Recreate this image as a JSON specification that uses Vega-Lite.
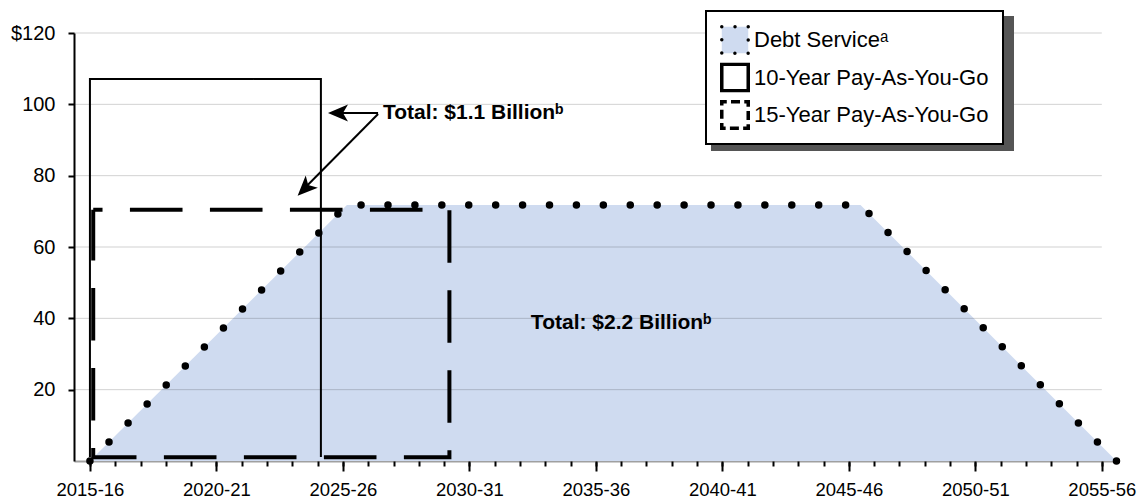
{
  "$schema": "https://vega.github.io/schema/vega-lite/v6.json",
  "width": 1043,
  "height": 428,
  "autosize": {"type": "none"},
  "padding": {"left": 74, "top": 33, "right": 24, "bottom": 39},
  "background": "white",
  "config": {"view": {"stroke": null}, "font": "Liberation Sans"},
  "datasets": {
    "debt": [
      {"series": "Debt Service", "year": 2015.0, "value": 0},
      {"series": "Debt Service", "year": 2025.16, "value": 71.78},
      {"series": "Debt Service", "year": 2045.46, "value": 71.78},
      {"series": "Debt Service", "year": 2055.58, "value": 0}
    ],
    "payg": [
      {"series": "10-Year Pay-As-You-Go", "i": 0, "year": 2015.0, "value": 1.12},
      {"series": "10-Year Pay-As-You-Go", "i": 1, "year": 2015.0, "value": 107.1},
      {"series": "10-Year Pay-As-You-Go", "i": 2, "year": 2024.13, "value": 107.1},
      {"series": "10-Year Pay-As-You-Go", "i": 3, "year": 2024.13, "value": 1.12},
      {"series": "15-Year Pay-As-You-Go", "i": 0, "year": 2015.13, "value": 70.46},
      {"series": "15-Year Pay-As-You-Go", "i": 1, "year": 2029.21, "value": 70.46},
      {"series": "15-Year Pay-As-You-Go", "i": 2, "year": 2029.21, "value": 1.04},
      {"series": "15-Year Pay-As-You-Go", "i": 3, "year": 2015.13, "value": 1.04},
      {"series": "15-Year Pay-As-You-Go", "i": 4, "year": 2015.13, "value": 70.46}
    ],
    "grid": [{"value": 20}, {"value": 40}, {"value": 60}, {"value": 80}, {"value": 100}, {"value": 120}]
  },
  "resolve": {"axis": {"x": "independent"}},
  "layer": [
    {
      "data": {"name": "debt"},
      "mark": {"type": "area", "color": "#CFDBF0"},
      "encoding": {
        "x": {
          "field": "year", "type": "quantitative",
          "scale": {"domain": [2014.37, 2055.6], "nice": false, "zero": false},
          "axis": {
            "orient": "bottom",
            "values": [2015, 2020, 2025, 2030, 2035, 2040, 2045, 2050, 2055],
            "labelExpr": "datum.value + '-' + substring(toString(datum.value + 1), 2, 4)",
            "title": null, "grid": false,
            "domainColor": "#a0a0a0", "domainWidth": 2,
            "tickColor": "#000", "tickWidth": 2, "tickSize": 10,
            "labelFont": "Liberation Sans", "labelFontSize": 18.5, "labelColor": "#000",
            "labelPadding": 9, "labelFlush": false, "labelOverlap": false, "labelBound": false
          }
        },
        "y": {
          "field": "value", "type": "quantitative",
          "scale": {"domain": [0, 120], "nice": false},
          "axis": {
            "values": [20, 40, 60, 80, 100, 120],
            "labelExpr": "datum.value == 120 ? '$120' : datum.label",
            "title": null, "grid": false,
            "domainColor": "#000", "domainWidth": 2,
            "tickColor": "#000", "tickWidth": 2, "tickSize": 6,
            "labelFont": "Liberation Sans", "labelFontSize": 20, "labelColor": "#000",
            "labelPadding": 13
          }
        }
      }
    },
    {
      "data": {"name": "grid"},
      "mark": {"type": "rule", "color": "#000", "opacity": 0.18, "strokeWidth": 1},
      "encoding": {
        "x": {"datum": 2014.37, "type": "quantitative", "axis": null},
        "x2": {"datum": 2055.0},
        "y": {"field": "value", "type": "quantitative"}
      }
    },
    {
      "data": {"name": "debt"},
      "mark": {"type": "line", "strokeWidth": 7.5, "strokeCap": "round", "strokeJoin": "round"},
      "encoding": {
        "x": {
          "field": "year", "type": "quantitative",
          "axis": {
            "orient": "bottom",
            "values": [2015, 2016, 2017, 2018, 2019, 2020, 2021, 2022, 2023, 2024, 2025, 2026, 2027, 2028, 2029, 2030, 2031, 2032, 2033, 2034, 2035, 2036, 2037, 2038, 2039, 2040, 2041, 2042, 2043, 2044, 2045, 2046, 2047, 2048, 2049, 2050, 2051, 2052, 2053, 2054, 2055],
            "labels": false, "domain": false, "grid": false, "title": null,
            "ticks": true, "tickSize": 5, "tickWidth": 2, "tickColor": "#000"
          }
        },
        "y": {"field": "value", "type": "quantitative"},
        "stroke": {
          "field": "series", "type": "nominal",
          "scale": {"domain": ["Debt Service", "10-Year Pay-As-You-Go", "15-Year Pay-As-You-Go"], "range": ["#000000", "#000000", "#000000"]},
          "legend": {
            "orient": "none", "legendX": 632, "legendY": -22, "title": null,
            "symbolType": "square", "symbolSize": 700, "symbolStrokeColor": "#000", "symbolStrokeWidth": 3.5,
            "labelFont": "Liberation Sans", "labelFontSize": 22, "labelColor": "#000", "labelOffset": 4,
            "labelLimit": 400, "clipHeight": 30,
            "padding": 14, "rowPadding": 7.5,
            "fillColor": "#ffffff", "strokeColor": "#000", "zindex": 2,
            "labelExpr": "datum.label == 'Debt Service' ? 'Debt Serviceᵃ' : datum.label",
            "encode": {
              "legend": {"update": {"strokeWidth": {"value": 2}}},
              "symbols": {"update": {
                "strokeDash": {"signal": "datum.value == 'Debt Service' ? [0, 13.25] : (datum.value == '15-Year Pay-As-You-Go' ? [9, 4.25] : [1, 0])"},
                "strokeDashOffset": {"signal": "datum.value == '15-Year Pay-As-You-Go' ? 4 : 0"},
                "strokeCap": {"signal": "datum.value == 'Debt Service' ? 'round' : 'butt'"},
                "fill": {"signal": "datum.value == 'Debt Service' ? '#CFDBF0' : '#ffffff'"},
                "stroke": {"value": "#000"},
                "opacity": {"value": 1}
              }}
            }
          }
        },
        "strokeDash": {
          "field": "series", "type": "nominal",
          "scale": {"domain": ["15-Year Pay-As-You-Go", "10-Year Pay-As-You-Go", "Debt Service"], "range": [[52.6, 27.4], [1, 0], [0, 26.92]]},
          "legend": {
            "orient": "none", "legendX": 638, "legendY": -16, "title": null,
            "symbolType": "square", "symbolSize": 72361, "symbolStrokeColor": "#555555", "symbolStrokeWidth": 0,
            "symbolFillColor": "#555555", "symbolOpacity": 0,
            "labelOffset": 4, "labelOpacity": 0, "labelFontSize": 1,
            "clipHeight": 30,
            "padding": 14, "rowPadding": 7.5,
            "fillColor": "#555555", "strokeColor": "#555555", "zindex": 0,
            "labelExpr": "''",
            "encode": {
              "legend": {"update": {"strokeWidth": {"value": 2}}}
            }
          }
        }
      }
    },
    {
      "data": {"name": "payg"},
      "transform": [{"filter": "datum.series == '10-Year Pay-As-You-Go'"}],
      "mark": {"type": "line", "color": "#000", "strokeWidth": 2, "strokeJoin": "miter", "strokeCap": "butt"},
      "encoding": {
        "x": {"field": "year", "type": "quantitative", "axis": null},
        "y": {"field": "value", "type": "quantitative"},
        "order": {"field": "i", "type": "quantitative"},
        "strokeDash": {"field": "series", "type": "nominal"}
      }
    },
    {
      "data": {"name": "payg"},
      "transform": [{"filter": "datum.series == '15-Year Pay-As-You-Go'"}],
      "mark": {"type": "line", "color": "#000", "strokeWidth": 4, "strokeJoin": "miter", "strokeCap": "butt", "strokeDashOffset": 43.3},
      "encoding": {
        "x": {"field": "year", "type": "quantitative", "axis": null},
        "y": {"field": "value", "type": "quantitative"},
        "order": {"field": "i", "type": "quantitative"},
        "strokeDash": {"field": "series", "type": "nominal"}
      }
    },
    {
      "data": {"values": [{}]},
      "mark": {"type": "rule", "color": "#000", "strokeWidth": 2},
      "encoding": {
        "x": {"datum": 2026.39, "type": "quantitative", "axis": null},
        "y": {"datum": 97.57, "type": "quantitative"},
        "x2": {"datum": 2024.9},
        "y2": {"datum": 97.57}
      }
    },
    {
      "data": {"values": [{}]},
      "mark": {"type": "rule", "color": "#000", "strokeWidth": 2},
      "encoding": {
        "x": {"datum": 2026.39, "type": "quantitative", "axis": null},
        "y": {"datum": 97.3, "type": "quantitative"},
        "x2": {"datum": 2023.6},
        "y2": {"datum": 77.3}
      }
    },
    {
      "data": {"values": [{}]},
      "mark": {"type": "point", "filled": true, "color": "#000", "opacity": 1, "strokeWidth": 0, "size": 1600, "angle": 270, "shape": "M0,0L-0.43,1L0,0.75L0.43,1Z"},
      "encoding": {
        "x": {"datum": 2024.41, "type": "quantitative", "axis": null},
        "y": {"datum": 97.57, "type": "quantitative"}
      }
    },
    {
      "data": {"values": [{}]},
      "mark": {"type": "point", "filled": true, "color": "#000", "opacity": 1, "strokeWidth": 0, "size": 1600, "angle": 225, "shape": "M0,0L-0.43,1L0,0.75L0.43,1Z"},
      "encoding": {
        "x": {"datum": 2023.21, "type": "quantitative", "axis": null},
        "y": {"datum": 74.38, "type": "quantitative"}
      }
    },
    {
      "data": {"values": [{}]},
      "mark": {"type": "text", "font": "Liberation Sans", "fontWeight": "bold", "fontSize": 21, "align": "left", "baseline": "middle", "color": "#000"},
      "encoding": {
        "x": {"datum": 2026.58, "type": "quantitative", "axis": null},
        "y": {"datum": 97.57, "type": "quantitative"},
        "text": {"value": "Total: $1.1 Billionᵇ"}
      }
    },
    {
      "data": {"values": [{}]},
      "mark": {"type": "text", "font": "Liberation Sans", "fontWeight": "bold", "fontSize": 21, "align": "left", "baseline": "middle", "color": "#000"},
      "encoding": {
        "x": {"datum": 2032.43, "type": "quantitative", "axis": null},
        "y": {"datum": 38.78, "type": "quantitative"},
        "text": {"value": "Total: $2.2 Billionᵇ"}
      }
    }
  ]
}
